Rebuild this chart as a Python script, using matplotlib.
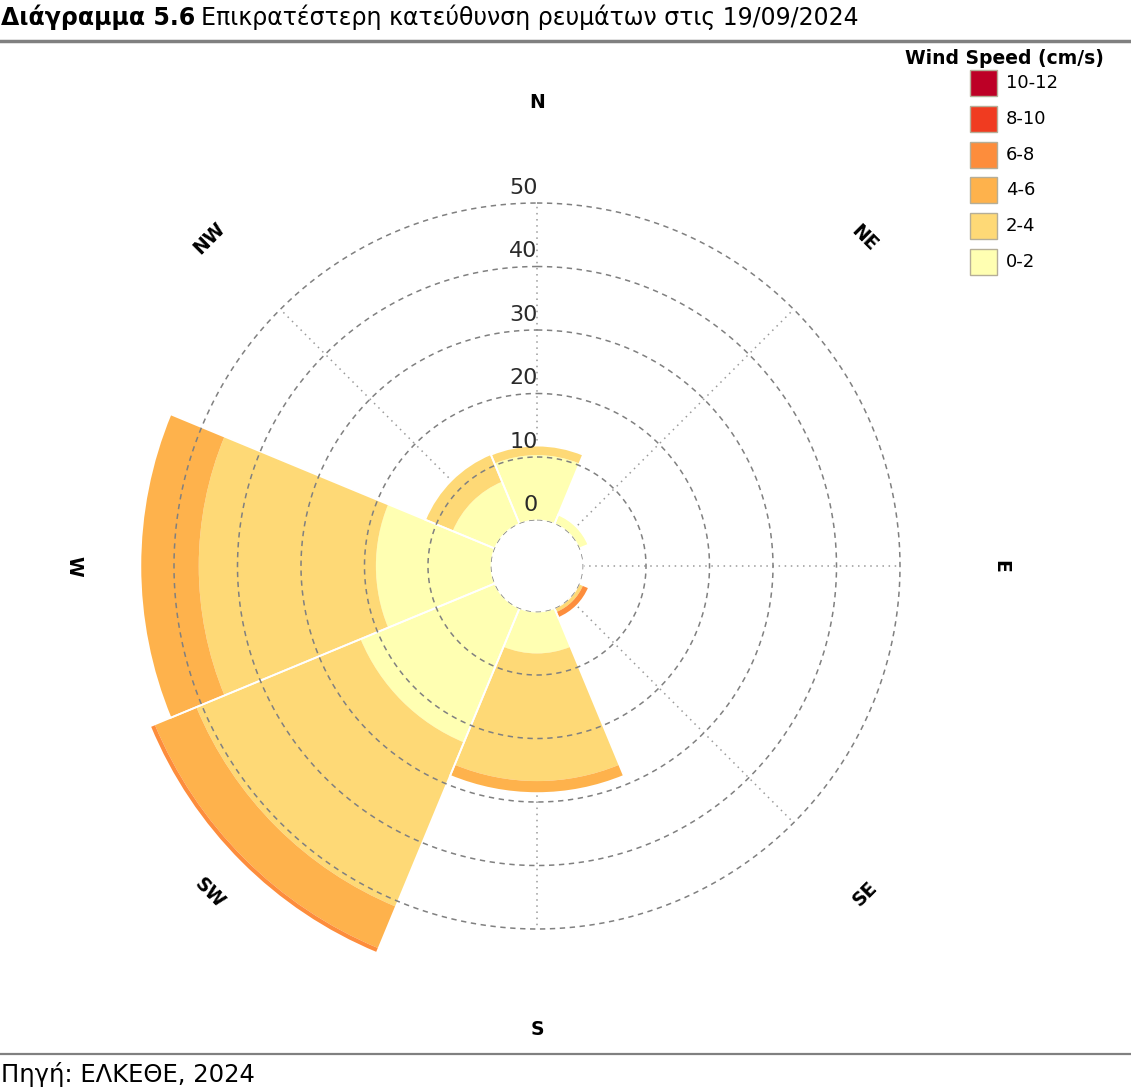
import numpy as np
import matplotlib
matplotlib.use('Agg')
import matplotlib.pyplot as plt
from matplotlib.patches import Rectangle
from matplotlib.lines import Line2D

# ---------------- data ----------------
directions = ['N', 'NE', 'E', 'SE', 'S', 'SW', 'W', 'NW']
angles_deg = [0, 45, 90, 135, 180, 225, 270, 315]
speed_bins = ['0-2', '2-4', '4-6', '6-8', '8-10', '10-12']
bin_colors = ['#FFFFB2', '#FED976', '#FEB24C', '#FD8D3C', '#F03B20', '#BD0026']
freq_0_2 = [10.3, 1.6, 0, 0, 6.6, 22.9, 18.2, 7.2]
freq_2_4 = [1.5, 0, 0, 0.7, 20.1, 28.0, 27.9, 4.7]
freq_4_6 = [0, 0, 0, 0, 1.9, 7.1, 9.2, 0]
freq_6_8 = [0, 0, 0, 1.0, 0, 0.8, 0, 0]
freq_8_10 = [0, 0, 0, 0, 0, 0, 0, 0]
freq_10_12 = [0, 0, 0, 0, 0, 0, 0, 0]
radial_ticks = [0, 10, 20, 30, 40, 50]
title_bold = 'Διάγραμμα 5.6'
title_rest = 'Επικρατέστερη κατεύθυνση ρευμάτων στις 19/09/2024'
source_text = 'Πηγή: ΕΛΚΕΘΕ, 2024'
legend_title = 'Wind Speed (cm/s)'

series = [freq_0_2, freq_2_4, freq_4_6, freq_6_8, freq_8_10, freq_10_12]

# ---------------- figure ----------------
W, H = 1131, 1089
fig = plt.figure(figsize=(W / 100, H / 100), dpi=100)
plt.rcParams['font.family'] = ['DejaVu Sans']

ax = fig.add_axes([0.0977, 0.0886, 0.7542, 0.7833], projection='polar')
ax.set_theta_zero_location('N')
ax.set_theta_direction(-1)
ax.set_ylim(0, 60)
ax.set_rorigin(-7.17)
ax.grid(False)
ax.set_xticks([])
ax.set_yticks([])
for sp in ax.spines.values():
    sp.set_visible(False)
    sp.set_edgecolor('none')
    sp.set_linewidth(0)
ax.patch.set_alpha(0)

theta = np.deg2rad(angles_deg)
width = np.deg2rad(45)

# dotted angular grid lines (below bars)
for a in theta:
    ax.plot([a, a], [0, radial_ticks[-1]], color='#9a9a9a', lw=1.1,
            ls=(0, (1, 3)), zorder=0.5)

# stacked bars
bottom = np.zeros(len(directions))
for vals, col in zip(series, bin_colors):
    vals = np.asarray(vals, dtype=float)
    ax.bar(theta, vals, width=width, bottom=bottom, color=col,
           edgecolor='none', linewidth=0, zorder=2)
    bottom = bottom + vals

# white separators between sectors
ax.bar(theta, bottom, width=width, bottom=0, facecolor='none',
       edgecolor='white', linewidth=1.3, zorder=2.5)

# dashed radial circles (above bars)
th = np.linspace(0, 2 * np.pi, 721)
for v in radial_ticks:
    ax.plot(th, np.full_like(th, v), color='#808080', lw=1.1,
            ls=(0, (3.5, 3)), zorder=3)

# radial tick labels
for v in radial_ticks:
    ax.annotate(str(v), xy=(0, v), xytext=(0.5, 6.5), textcoords='offset points',
                ha='right', va='baseline', fontsize=16, color='#2a2a2a',
                zorder=4, annotation_clip=False)

# angular labels (tangential)
for name, a in zip(directions, angles_deg):
    rot = -a
    while rot <= -90.5:
        rot += 180
    while rot > 90:
        rot -= 180
    ax.text(np.deg2rad(a), 65.8, name, rotation=rot, rotation_mode='anchor',
            ha='center', va='center', fontsize=13.5, fontweight='bold',
            color='black', clip_on=False)

# ---------------- legend ----------------
def fx(x):
    return x / W

def fy(y):
    return 1 - y / H

fig.text(fx(1104), fy(59), legend_title, ha='right', va='center',
         fontsize=13.5, fontweight='bold')
for i, (lab, col) in enumerate(zip(speed_bins[::-1], bin_colors[::-1])):
    yc = 83 + 35.8 * i
    fig.add_artist(Rectangle((fx(970), fy(yc + 13)), 27 / W, 26 / H,
                             transform=fig.transFigure, facecolor=col,
                             edgecolor='#b5ae98', linewidth=1))
    fig.text(fx(1006), fy(yc), lab, ha='left', va='center', fontsize=13)

# ---------------- title & source ----------------
t1 = fig.text(fx(1), fy(25), title_bold, ha='left', va='baseline',
              fontsize=17, fontweight='bold')
fig.canvas.draw()
bb = t1.get_window_extent()
fig.text(bb.x1 / W + 6 / W, fy(25), title_rest, ha='left', va='baseline',
         fontsize=17)
fig.add_artist(Line2D([0, 1], [fy(41), fy(41)], transform=fig.transFigure,
                      color='#808080', lw=2.5))
fig.add_artist(Line2D([0, 1], [fy(1054), fy(1054)], transform=fig.transFigure,
                      color='#808080', lw=1.6))
fig.text(fx(1), fy(1082), source_text, ha='left', va='baseline', fontsize=17.5)

fig.savefig('out.png', dpi=100, facecolor='white')
